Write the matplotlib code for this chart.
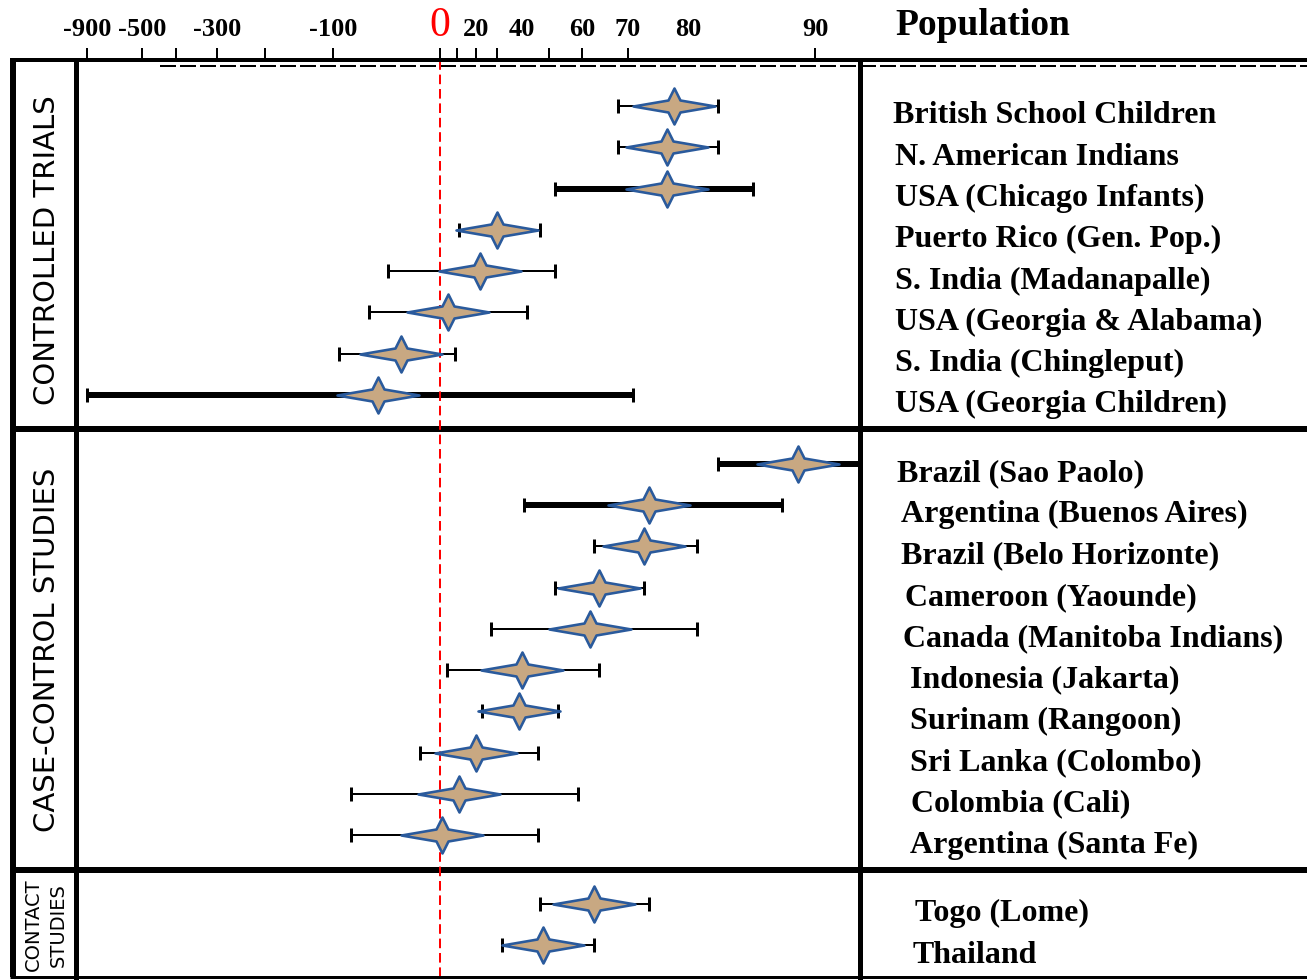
import numpy as np
import matplotlib
matplotlib.use("Agg")
import matplotlib.pyplot as plt
from matplotlib.path import Path
from matplotlib import transforms

# ---------------- data (vaccine efficacy, %) ----------------
trial_populations = ["British School Children", "N. American Indians", "USA (Chicago Infants)",
                     "Puerto Rico (Gen. Pop.)", "S. India (Madanapalle)", "USA (Georgia & Alabama)",
                     "S. India (Chingleput)", "USA (Georgia Children)"]
trial_efficacy = [78, 77, 77, 30, 22, 5, -29, -49]
trial_lower = [68, 68, 52, 11, -40, -58, -92, -900]
trial_upper = [83, 83, 86, 47, 52, 42, 9, 71]

case_populations = ["Brazil (Sao Paolo)", "Argentina (Buenos Aires)", "Brazil (Belo Horizonte)",
                    "Cameroon (Yaounde)", "Canada (Manitoba Indians)", "Indonesia (Jakarta)",
                    "Surinam (Rangoon)", "Sri Lanka (Colombo)", "Colombia (Cali)", "Argentina (Santa Fe)"]
case_efficacy = [89, 74, 73, 64, 62, 40, 39, 20, 11, 1]
case_lower = [83, 41, 63, 52, 27, 4, 23, -14, -78, -78]
case_upper = [95, 88, 81, 73, 81, 64, 53, 46, 59, 46]

contact_populations = ["Togo (Lome)", "Thailand"]
contact_efficacy = [63, 48]
contact_lower = [47, 32]
contact_upper = [74, 63]

group_titles = ["CONTROLLED TRIALS", "CASE-CONTROL STUDIES"]
contact_title = ["CONTACT", "STUDIES"]

tick_values = [-900, -500, -300, -100, 0, 20, 40, 60, 70, 80, 90]
tick_labels = ["-900", "-500", "-300", "-100", "0", "20", "40", "60", "70", "80", "90"]
tick_mark_values = [-900, -500, -400, -300, -200, -100, 0, 10, 20, 30, 50, 60, 70, 90]

# ---------------- style / layout ----------------
trial_thick = [False, False, True, False, False, False, False, True]
case_thick = [True, True, False, False, False, False, False, False, False, False]
contact_thick = [False, False]

trial_label_x = [893, 895, 895, 895, 895, 895, 895, 895]
case_label_x = [897, 901, 901, 905, 903, 910, 910, 910, 911, 910]
contact_label_x = [915, 913]

# pixel position of each labelled value on the hand-drawn (log relative-risk) axis
axis_px = [87, 142, 217, 333, 440, 476, 522, 582, 628, 688, 815]

W, H, DPI = 1307, 980, 100
PT = 72.0 / DPI
AX_L, AX_R, AX_T, AX_B = 75.5, 860.0, 60.0, 977.0
ROW0, ROWH, GAP = 106.0, 41.3, 1.66

FILL = "#C8A882"
EDGE = "#2A5A9C"


def to_u(v):
    v = np.clip(np.asarray(v, dtype=float), -1e7, 99.999)
    return -np.log(1.0 - v / 100.0)


U_NODES = to_u(tick_values)
P_NODES = np.asarray(axis_px, dtype=float)


def _lin(x, xs, ys):
    x = np.asarray(x, dtype=float)
    y = np.interp(x, xs, ys)
    sl = (ys[1] - ys[0]) / (xs[1] - xs[0])
    sr = (ys[-1] - ys[-2]) / (xs[-1] - xs[-2])
    y = np.where(x < xs[0], ys[0] + (x - xs[0]) * sl, y)
    y = np.where(x > xs[-1], ys[-1] + (x - xs[-1]) * sr, y)
    return y


def fwd(v):
    return _lin(to_u(v), U_NODES, P_NODES)


def inv(p):
    u = _lin(p, P_NODES, U_NODES)
    return 100.0 * (1.0 - np.exp(-u))


fig = plt.figure(figsize=(W / DPI, H / DPI), dpi=DPI)
frame = fig.add_axes([0, 0, 1, 1])
frame.set_xlim(0, W)
frame.set_ylim(H, 0)
frame.axis("off")
frame.set_zorder(0)

ax = fig.add_axes([AX_L / W, 1 - AX_B / H, (AX_R - AX_L) / W, (AX_B - AX_T) / H])
ax.set_zorder(1)
ax.patch.set_alpha(0)
ax.set_xscale("function", functions=(fwd, inv))
ax.set_xlim(float(inv(AX_L)), float(inv(AX_R)))
ax.set_ylim((AX_B - ROW0) / ROWH, (AX_T - ROW0) / ROWH)

for side, lw in (("left", 5), ("right", 5), ("top", 4), ("bottom", 3)):
    ax.spines[side].set_linewidth(lw * PT)
ax.set_yticks([])
ax.xaxis.set_ticks_position("top")
ax.set_xticks(tick_mark_values)
ax.set_xticklabels([])
ax.xaxis.set_minor_locator(matplotlib.ticker.NullLocator())
ax.tick_params(axis="x", direction="out", length=12 * PT, width=2 * PT,
               top=True, bottom=False, labeltop=False, labelbottom=False)

# row positions
y1 = np.arange(len(trial_efficacy), dtype=float)
y2 = y1[-1] + GAP + np.arange(len(case_efficacy))
y3 = y2[-1] + GAP + np.arange(len(contact_efficacy))

star = Path([(0, 18), (6, 6), (41, 0), (6, -6), (0, -18), (-6, -6), (-41, 0), (-6, 6), (0, 18)],
            [Path.MOVETO] + [Path.LINETO] * 7 + [Path.CLOSEPOLY])

lab_tr = transforms.blended_transform_factory(frame.transData, ax.transData)

groups = [
    (trial_populations, trial_efficacy, trial_lower, trial_upper, trial_thick, trial_label_x, y1),
    (case_populations, case_efficacy, case_lower, case_upper, case_thick, case_label_x, y2),
    (contact_populations, contact_efficacy, contact_lower, contact_upper, contact_thick, contact_label_x, y3),
]

for names, eff, lo, hi, thick, lx, ys in groups:
    eff = np.asarray(eff, float)
    lo = np.asarray(lo, float)
    hi = np.asarray(hi, float)
    for i in range(len(eff)):
        ax.errorbar([eff[i]], [ys[i]], xerr=[[eff[i] - lo[i]], [hi[i] - eff[i]]], fmt="none",
                    ecolor="black", elinewidth=(6 if thick[i] else 2) * PT,
                    capsize=7 * PT, capthick=3 * PT, zorder=2)
    ax.plot(eff, ys, linestyle="none", marker=star, markersize=82 * PT,
            markerfacecolor=FILL, markeredgecolor=EDGE, markeredgewidth=2.6 * PT, zorder=3)
    for name, x_px, y in zip(names, lx, ys):
        ax.text(x_px, y + 0.42, name, transform=lab_tr, family="Liberation Serif",
                fontweight="bold", fontsize=23, ha="left", va="baseline")

# red no-effect line
ax.axvline(0, color="red", lw=2 * PT, dashes=(4.8, 2.4), zorder=2.5)

# axis labels along the top
tick_tr = transforms.blended_transform_factory(ax.transData, frame.transData)
for v, lab in zip(tick_values, tick_labels):
    if v == 0:
        ax.text(v, 36, lab, transform=tick_tr, family="Liberation Serif", fontsize=30,
                color="red", ha="center", va="baseline")
    else:
        ax.text(v, 36, lab, transform=tick_tr, family="Liberation Serif", fontweight="bold",
                fontsize=19, ha="center", va="baseline")

frame.text(895, 35, "Population", family="Liberation Serif", fontweight="bold",
           fontsize=27, ha="left", va="baseline")

# frame lines
frame.plot([10, W], [AX_T, AX_T], color="black", lw=4 * PT, solid_capstyle="butt")
frame.plot([160, W], [66, 66], color="black", lw=2 * PT, dashes=(8, 2))
frame.plot([13, 13], [AX_T - 2, AX_B], color="black", lw=6 * PT, solid_capstyle="butt")
frame.plot([10, W], [AX_B, AX_B], color="black", lw=3 * PT, solid_capstyle="butt")
for ysep in ((y1[-1] + y2[0]) / 2, (y2[-1] + y3[0]) / 2):
    frame.plot([10, W], [ysep, ysep], transform=lab_tr, color="black", lw=6 * PT,
               solid_capstyle="butt")

# group titles in the left column
for title, ys in zip(group_titles, (y1, y2)):
    ax.text(47, ys.mean(), title, transform=lab_tr, family="DejaVu Sans",
            fontsize=21, rotation=90, ha="center", va="center")
for title, x_px in zip(contact_title, (33, 58)):
    ax.text(x_px, y3.mean(), title, transform=lab_tr, family="DejaVu Sans",
            fontsize=14, rotation=90, ha="center", va="center")

fig.savefig("out.png", dpi=DPI)
